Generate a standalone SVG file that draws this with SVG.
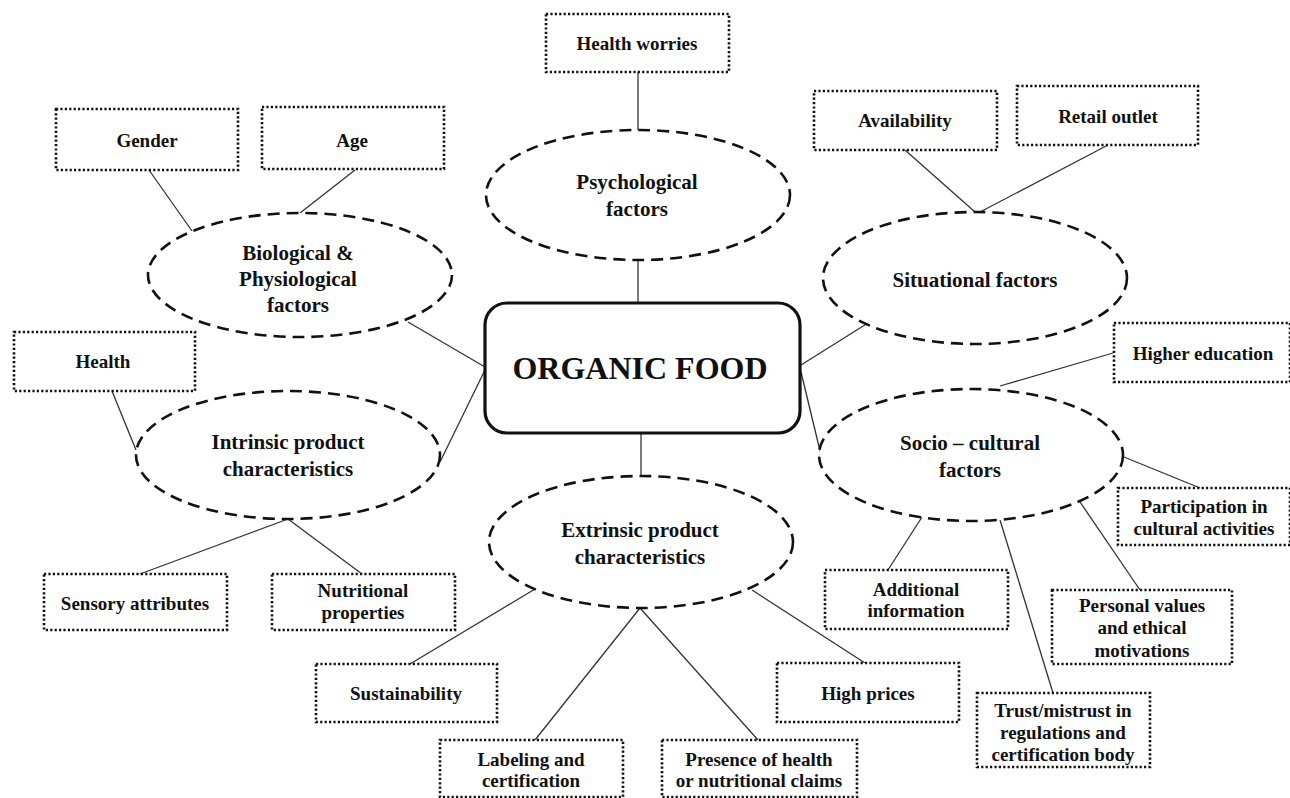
<svg xmlns="http://www.w3.org/2000/svg" width="1290" height="798" viewBox="0 0 1290 798">
<style>
text{font-family:"Liberation Serif","Times New Roman",serif;font-weight:bold;font-size:19px;fill:#111;text-anchor:middle}
.e{font-size:21px}
.box{fill:#fff;stroke:#111;stroke-width:2.6;stroke-dasharray:2.2 2.2}
.ell{fill:#fff;stroke:#111;stroke-width:2.6;stroke-dasharray:12 7}
.con{stroke:#333;stroke-width:1.3;fill:none}
.big{font-size:32px}
</style>
<rect width="1290" height="798" fill="#fff"/>
<g id="connectors">
<line class="con" x1="638" y1="72" x2="638" y2="130"/>
<line class="con" x1="638" y1="260" x2="638" y2="302"/>
<line class="con" x1="149" y1="170" x2="192" y2="231"/>
<line class="con" x1="355" y1="170" x2="300" y2="213"/>
<line class="con" x1="905" y1="150" x2="975" y2="212"/>
<line class="con" x1="1108" y1="145" x2="980" y2="212"/>
<line class="con" x1="868" y1="323" x2="801" y2="365"/>
<line class="con" x1="408" y1="322" x2="485" y2="367"/>
<line class="con" x1="440" y1="462" x2="485" y2="370"/>
<line class="con" x1="112" y1="391" x2="136" y2="450"/>
<line class="con" x1="288" y1="519" x2="140" y2="574"/>
<line class="con" x1="288" y1="519" x2="362" y2="574"/>
<line class="con" x1="641" y1="433" x2="641" y2="476"/>
<line class="con" x1="535" y1="589" x2="410" y2="664"/>
<line class="con" x1="640" y1="608" x2="535" y2="740"/>
<line class="con" x1="640" y1="608" x2="758" y2="740"/>
<line class="con" x1="752" y1="590" x2="865" y2="663"/>
<line class="con" x1="801" y1="372" x2="821" y2="455"/>
<line class="con" x1="1113" y1="353" x2="1000" y2="386"/>
<line class="con" x1="1124" y1="457" x2="1200" y2="488"/>
<line class="con" x1="922" y1="517" x2="888" y2="570"/>
<line class="con" x1="1000" y1="520" x2="1053" y2="693"/>
<line class="con" x1="1080" y1="502" x2="1140" y2="590"/>
</g>
<g id="organic-food">
<rect x="485" y="303" width="315" height="130" rx="22" fill="#fff" stroke="#111" stroke-width="3.2"/>
<text class="big" x="640" y="379">ORGANIC FOOD</text>
</g>
<g id="psychological"><ellipse class="ell" cx="638" cy="195" rx="152" ry="65"/><text class="e" x="637" y="189">Psychological</text><text class="e" x="637" y="216">factors</text></g>
<g id="biological"><ellipse class="ell" cx="300" cy="275" rx="152" ry="62"/><text class="e" x="298" y="260">Biological &amp;</text><text class="e" x="298" y="286">Physiological</text><text class="e" x="298" y="312">factors</text></g>
<g id="situational"><ellipse class="ell" cx="975" cy="278" rx="152" ry="66"/><text class="e" x="975" y="287">Situational  factors</text></g>
<g id="intrinsic"><ellipse class="ell" cx="288" cy="455" rx="152" ry="64"/><text class="e" x="288" y="449">Intrinsic  product</text><text class="e" x="288" y="476">characteristics</text></g>
<g id="socio"><ellipse class="ell" cx="971" cy="455" rx="152" ry="66"/><text class="e" x="970" y="450">Socio – cultural</text><text class="e" x="970" y="477">factors</text></g>
<g id="extrinsic"><ellipse class="ell" cx="641" cy="542" rx="152" ry="66"/><text class="e" x="640" y="537">Extrinsic  product</text><text class="e" x="640" y="564">characteristics</text></g>
<g id="health-worries"><rect class="box" x="546" y="14" width="183" height="58"/><text x="637" y="50">Health worries</text></g>
<g id="gender"><rect class="box" x="56" y="109" width="182" height="61"/><text x="147" y="147">Gender</text></g>
<g id="age"><rect class="box" x="262" y="107" width="182" height="62"/><text x="352" y="147">Age</text></g>
<g id="availability"><rect class="box" x="814" y="91" width="183" height="59"/><text x="905" y="127">Availability</text></g>
<g id="retail"><rect class="box" x="1017" y="86" width="181" height="59"/><text x="1108" y="123">Retail outlet</text></g>
<g id="health"><rect class="box" x="14" y="332" width="181" height="59"/><text x="103" y="368">Health</text></g>
<g id="higher-education"><rect class="box" x="1114" y="323" width="176" height="59"/><text x="1203" y="360">Higher education</text></g>
<g id="participation"><rect class="box" x="1118" y="488" width="172" height="57"/><text x="1204" y="513">Participation in</text><text x="1204" y="535">cultural activities</text></g>
<g id="sensory"><rect class="box" x="44" y="574" width="183" height="56"/><text x="135" y="610">Sensory attributes</text></g>
<g id="nutritional"><rect class="box" x="272" y="574" width="183" height="56"/><text x="363" y="597">Nutritional</text><text x="363" y="619">properties</text></g>
<g id="additional"><rect class="box" x="825" y="570" width="183" height="59"/><text x="916" y="596">Additional</text><text x="916" y="617">information</text></g>
<g id="personal-values"><rect class="box" x="1052" y="590" width="180" height="74"/><text x="1142" y="612">Personal values</text><text x="1142" y="634">and ethical</text><text x="1142" y="657">motivations</text></g>
<g id="sustainability"><rect class="box" x="316" y="664" width="181" height="58"/><text x="406" y="700">Sustainability</text></g>
<g id="high-prices"><rect class="box" x="777" y="663" width="182" height="59"/><text x="868" y="700">High prices</text></g>
<g id="trust"><rect class="box" x="977" y="693" width="173" height="74"/><text x="1063" y="717">Trust/mistrust in</text><text x="1063" y="739">regulations  and</text><text x="1063" y="761">certification body</text></g>
<g id="labeling"><rect class="box" x="440" y="740" width="183" height="57"/><text x="531" y="766">Labeling and</text><text x="531" y="787">certification</text></g>
<g id="presence"><rect class="box" x="662" y="740" width="195" height="57"/><text x="759" y="766">Presence of health</text><text x="759" y="787">or nutritional claims</text></g>
</svg>
